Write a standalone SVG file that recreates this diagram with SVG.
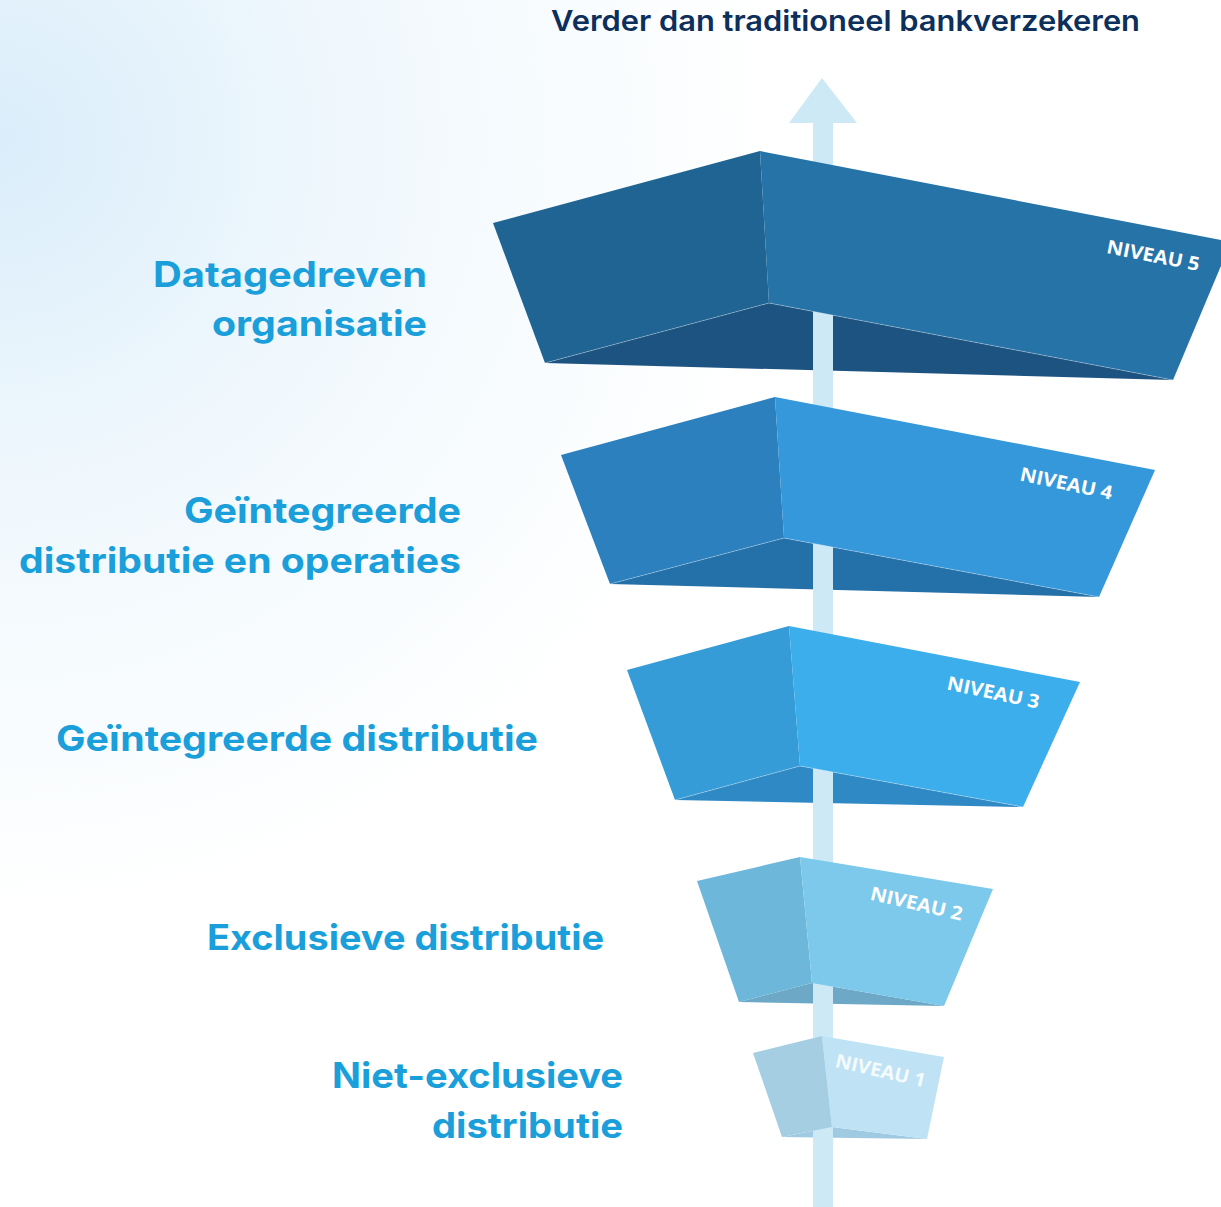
<svg xmlns="http://www.w3.org/2000/svg" width="1221" height="1207" viewBox="0 0 1221 1207">
  <defs>
    <radialGradient id="bg" cx="0" cy="140" r="780" gradientUnits="userSpaceOnUse">
      <stop offset="0" stop-color="#DAEDFA"/>
      <stop offset="0.45" stop-color="#F0F8FD"/>
      <stop offset="1" stop-color="#FFFFFF"/>
    </radialGradient>
  </defs>
  <style>
    .title { font-family: Inter, "Liberation Sans", sans-serif; font-weight: 600; font-size: 28px; fill: #0C2F5C; }
    .lbl { font-family: Inter, "Liberation Sans", sans-serif; font-weight: 700; font-size: 35px; fill: #1A9FDB; }
    .niv { font-family: "Open Sans", "Liberation Sans", sans-serif; font-weight: 700; font-size: 19px; fill: #FFFFFF; }
    .shaft { fill: #CDE9F6; }
    .crease { fill: none; stroke: #FFFFFF; stroke-opacity: 0.3; stroke-width: 1; }
  </style>
  <rect x="0" y="0" width="1221" height="1207" fill="url(#bg)"/>

  <text class="title" x="551" y="31" textLength="589" lengthAdjust="spacingAndGlyphs">Verder dan traditioneel bankverzekeren</text>

  <g id="connectors">
    <polygon class="shaft" points="822,78 857,123 789,123"/>
    <rect class="shaft" x="813" y="120" width="20" height="1087"/>
  </g>

  <g id="niveau5">
    <polygon fill="#1D5380" points="545,363 769,303 1173,380"/>
    <rect class="shaft" x="813" y="300" width="20" height="80"/>
    <polygon fill="#1F6493" points="493,223 760,151 769,303 545,363"/>
    <polygon fill="#2673A8" points="760,151 1231,242 1173,380 769,303"/>
    <polyline class="crease" points="545,363 769,303 1173,380"/>
    <text class="niv" x="0" y="0" transform="translate(1152,262) rotate(11)" text-anchor="middle" textLength="94" lengthAdjust="spacingAndGlyphs">NIVEAU 5</text>
  </g>
  <g id="label5">
    <text class="lbl" x="153" y="287" textLength="274" lengthAdjust="spacingAndGlyphs">Datagedreven</text>
    <text class="lbl" x="212" y="336" textLength="215" lengthAdjust="spacingAndGlyphs">organisatie</text>
  </g>

  <g id="niveau4">
    <polygon fill="#2470A9" points="610,584 784,538 1099,597"/>
    <rect class="shaft" x="813" y="535" width="20" height="65"/>
    <polygon fill="#2B80BD" points="561,455 775,397 784,538 610,584"/>
    <polygon fill="#3598DB" points="775,397 1155,470 1099,597 784,538"/>
    <polyline class="crease" points="610,584 784,538 1099,597"/>
    <text class="niv" x="0" y="0" transform="translate(1065,490) rotate(12)" text-anchor="middle" textLength="94" lengthAdjust="spacingAndGlyphs">NIVEAU 4</text>
  </g>
  <g id="label4">
    <text class="lbl" x="184" y="523" textLength="277" lengthAdjust="spacingAndGlyphs">Geïntegreerde</text>
    <text class="lbl" x="19" y="573" textLength="442" lengthAdjust="spacingAndGlyphs">distributie en operaties</text>
  </g>

  <g id="niveau3">
    <polygon fill="#2F89C4" points="675,800 800,766 1023,807"/>
    <rect class="shaft" x="813" y="763" width="20" height="47"/>
    <polygon fill="#359CD8" points="627,670 789,626 800,766 675,800"/>
    <polygon fill="#3DAEEC" points="789,626 1080,682 1023,807 800,766"/>
    <polyline class="crease" points="675,800 800,766 1023,807"/>
    <text class="niv" x="0" y="0" transform="translate(992,699) rotate(12)" text-anchor="middle" textLength="94" lengthAdjust="spacingAndGlyphs">NIVEAU 3</text>
  </g>
  <g id="label3">
    <text class="lbl" x="56" y="751" textLength="482" lengthAdjust="spacingAndGlyphs">Geïntegreerde distributie</text>
  </g>

  <g id="niveau2">
    <polygon fill="#6DA9C7" points="739,1002 812,983 944,1006"/>
    <rect class="shaft" x="813" y="980" width="20" height="30"/>
    <polygon fill="#6CB7DA" points="697,881 800,857 812,983 739,1002"/>
    <polygon fill="#7DC9EC" points="800,857 993,889 944,1006 812,983"/>
    <text class="niv" x="0" y="0" transform="translate(915,910) rotate(13)" text-anchor="middle" textLength="94" lengthAdjust="spacingAndGlyphs">NIVEAU 2</text>
  </g>
  <g id="label2">
    <text class="lbl" x="207" y="950" textLength="397" lengthAdjust="spacingAndGlyphs">Exclusieve distributie</text>
  </g>

  <g id="niveau1">
    <polygon fill="#9FCAE1" points="782,1137 832,1127 927,1139"/>
    <rect class="shaft" x="813" y="1124" width="20" height="20"/>
    <polygon fill="#A5CEE3" points="753,1053 822,1036 832,1127 782,1137"/>
    <polygon fill="#BFE3F5" points="822,1036 944,1057 927,1139 832,1127"/>
    <text class="niv" x="0" y="0" transform="translate(879,1077) rotate(13)" text-anchor="middle" fill-opacity="0.85" textLength="92" lengthAdjust="spacingAndGlyphs">NIVEAU 1</text>
  </g>
  <g id="label1">
    <text class="lbl" x="332" y="1088" textLength="291" lengthAdjust="spacingAndGlyphs">Niet-exclusieve</text>
    <text class="lbl" x="432" y="1138" textLength="191" lengthAdjust="spacingAndGlyphs">distributie</text>
  </g>
</svg>
